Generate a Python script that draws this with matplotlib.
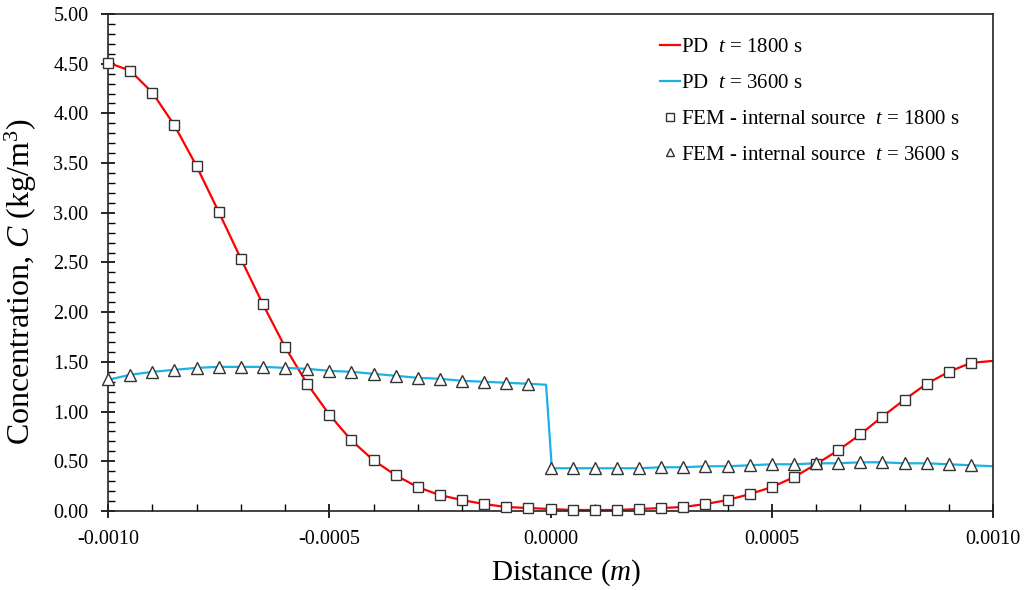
import numpy as np
import matplotlib.pyplot as plt
from matplotlib.ticker import MultipleLocator, FormatStrFormatter

# Data
x_fem = [-0.00100, -0.00095, -0.00090, -0.00085, -0.00080, -0.00075, -0.00070, -0.00065,
         -0.00060, -0.00055, -0.00050, -0.00045, -0.00040, -0.00035, -0.00030, -0.00025,
         -0.00020, -0.00015, -0.00010, -0.00005, 0.00000, 0.00005, 0.00010, 0.00015,
         0.00020, 0.00025, 0.00030, 0.00035, 0.00040, 0.00045, 0.00050, 0.00055,
         0.00060, 0.00065, 0.00070, 0.00075, 0.00080, 0.00085, 0.00090, 0.00095]

fem_1800 = [4.51, 4.43, 4.21, 3.88, 3.47, 3.01, 2.54, 2.08,
            1.65, 1.28, 0.97, 0.71, 0.51, 0.36, 0.24, 0.16,
            0.11, 0.07, 0.04, 0.03, 0.02, 0.01, 0.01, 0.01,
            0.02, 0.03, 0.04, 0.07, 0.11, 0.17, 0.24, 0.34,
            0.47, 0.61, 0.77, 0.95, 1.12, 1.28, 1.40, 1.49]

fem_3600 = [1.33, 1.37, 1.40, 1.42, 1.44, 1.45, 1.45, 1.45,
            1.44, 1.43, 1.41, 1.40, 1.38, 1.36, 1.34, 1.33,
            1.31, 1.30, 1.29, 1.28, 0.43, 0.43, 0.43, 0.43,
            0.43, 0.44, 0.44, 0.45, 0.45, 0.46, 0.47, 0.47,
            0.48, 0.48, 0.49, 0.49, 0.48, 0.48, 0.47, 0.46]

# PD curves
x_pd1 = x_fem + [0.00100]
pd_1800 = fem_1800 + [1.51]

x_pd2 = [-0.00100, -0.00095, -0.00090, -0.00085, -0.00080, -0.00075, -0.00070, -0.00065,
         -0.00060, -0.00055, -0.00050, -0.00045, -0.00040, -0.00035, -0.00030, -0.00025,
         -0.00020, -0.00015, -0.00010, -0.00005, -0.00001, 0.000003, 0.00005, 0.00010,
         0.00015, 0.00020, 0.00025, 0.00030, 0.00035, 0.00040, 0.00045, 0.00050,
         0.00055, 0.00060, 0.00065, 0.00070, 0.00075, 0.00080, 0.00085, 0.00090,
         0.00095, 0.00100]
pd_3600 = [1.32, 1.37, 1.40, 1.42, 1.44, 1.45, 1.45, 1.45,
           1.44, 1.43, 1.41, 1.40, 1.38, 1.36, 1.34, 1.33,
           1.31, 1.30, 1.29, 1.28, 1.27, 0.43, 0.43, 0.43,
           0.43, 0.43, 0.44, 0.44, 0.45, 0.45, 0.46, 0.47,
           0.47, 0.48, 0.48, 0.49, 0.49, 0.48, 0.48, 0.47,
           0.46, 0.45]

plt.rcParams['font.family'] = 'Liberation Serif'
plt.rcParams['mathtext.fontset'] = 'custom'
plt.rcParams['mathtext.rm'] = 'Liberation Serif'
plt.rcParams['mathtext.it'] = 'Liberation Serif:italic'

fig = plt.figure(figsize=(10.27, 5.90), dpi=100)
ax = fig.add_axes([0.1052, 0.1339, 0.8617, 0.8424])

red = '#FF0000'
blue = '#1AB2E8'

ax.plot(x_pd1, pd_1800, color=red, lw=1.6, label='PD  $t$ = 1800 s', zorder=2)
ax.plot(x_pd2, pd_3600, color=blue, lw=1.6, label='PD  $t$ = 3600 s', zorder=2)
ax.plot(x_fem, fem_1800, ls='none', marker='s', ms=7.5, mfc='white', mec='#333333', mew=1.0,
        label='FEM - internal source  $t$ = 1800 s', zorder=3, clip_on=False)
ax.plot(x_fem, fem_3600, ls='none', marker='^', ms=8, mfc='white', mec='#333333', mew=1.0,
        label='FEM - internal source  $t$ = 3600 s', zorder=3, clip_on=False)

ax.set_xlim(-0.001, 0.001)
ax.set_ylim(0, 5)
ax.xaxis.set_major_locator(MultipleLocator(0.0005))
ax.xaxis.set_minor_locator(MultipleLocator(0.0001))
ax.yaxis.set_major_locator(MultipleLocator(0.5))
ax.yaxis.set_minor_locator(MultipleLocator(0.1))
ax.xaxis.set_major_formatter(FormatStrFormatter('%.4f'))
ax.yaxis.set_major_formatter(FormatStrFormatter('%.2f'))
ax.tick_params(which='major', direction='inout', length=10, width=1.2, labelsize=14.5)
ax.tick_params(axis='y', which='major', pad=9)
ax.tick_params(axis='x', which='major', pad=9)
ax.tick_params(which='minor', direction='in', length=5, width=1.0)
ax.tick_params(top=False, right=False, which='both')
for s in ax.spines.values():
    s.set_linewidth(1.2)
    s.set_color('#222222')

ax.set_xlabel('Distance ($m$)', fontsize=21)
ax.set_ylabel('Concentration, $C$ (kg/m$^3$)', fontsize=23)
ax.xaxis.set_label_coords(0.5175, -0.093)
ax.yaxis.set_label_coords(-0.078, 0.461)

leg = ax.legend(loc='upper left', bbox_to_anchor=(0.603, 0.99), frameon=False, fontsize=15,
                handlelength=0.95, handletextpad=0.05, labelspacing=0.78, markerscale=0.7)

fig.savefig('out.png', dpi=100)
